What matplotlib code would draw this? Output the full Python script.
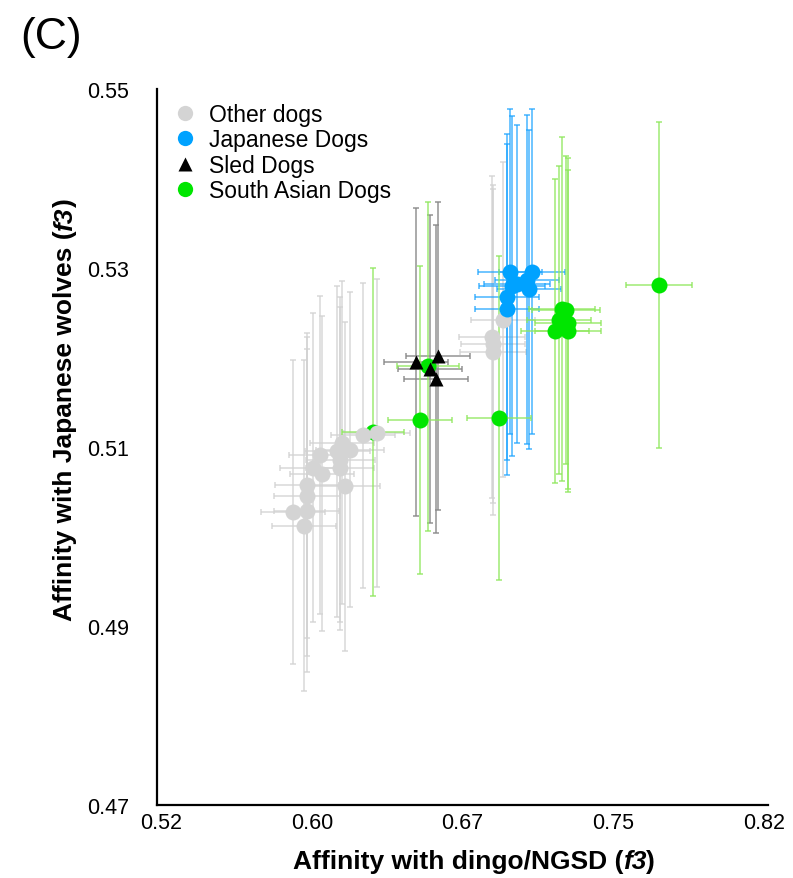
import matplotlib
matplotlib.use("Agg")
import matplotlib.pyplot as plt
from matplotlib.lines import Line2D

plt.rcParams['font.family'] = ['Liberation Sans', 'DejaVu Sans']

# ---- data ----
other_x = [0.6205, 0.6275, 0.6100, 0.6140, 0.6076, 0.5991, 0.6091, 0.5956, 0.6001, 0.6091,
           0.6115, 0.5926, 0.5926, 0.5857, 0.5926, 0.5911, 0.6901, 0.6847, 0.6852, 0.6852]
other_y = [0.5113, 0.5116, 0.5105, 0.5097, 0.5095, 0.5091, 0.5086, 0.5077, 0.5070, 0.5076,
           0.5056, 0.5057, 0.5045, 0.5027, 0.5029, 0.5012, 0.5242, 0.5223, 0.5215, 0.5206]
other_xerr = [0.0160, 0.0165, 0.0158, 0.0170, 0.0162, 0.0155, 0.0172, 0.0165, 0.0160, 0.0168,
              0.0175, 0.0160, 0.0165, 0.0160, 0.0162, 0.0158, 0.0160, 0.0165, 0.0160, 0.0162]
other_yerr = [0.0170, 0.0172, 0.0180, 0.0176, 0.0185, 0.0178, 0.0182, 0.0173, 0.0176, 0.0180,
              0.0184, 0.0170, 0.0178, 0.0170, 0.0180, 0.0185, 0.0176, 0.0180, 0.0178, 0.0182]

jp_x = [0.6936, 0.7046, 0.7021, 0.6946, 0.7031, 0.6921, 0.6921, 0.6971]
jp_y = [0.5296, 0.5296, 0.5287, 0.5280, 0.5276, 0.5268, 0.5254, 0.5282]
jp_xerr = [0.0160, 0.0162, 0.0158, 0.0165, 0.0160, 0.0158, 0.0160, 0.0162]
jp_yerr = [0.0182, 0.0182, 0.0184, 0.0190, 0.0178, 0.0182, 0.0185, 0.0178]

sled_x = [0.6469, 0.6578, 0.6538, 0.6568]
sled_y = [0.5195, 0.5202, 0.5187, 0.5176]
sled_xerr = [0.0158, 0.0160, 0.0158, 0.0160]
sled_yerr = [0.0172, 0.0172, 0.0172, 0.0172]

sa_x = [0.7678, 0.6489, 0.6882, 0.6255, 0.6528, 0.7195, 0.7215, 0.7180, 0.7225, 0.7160, 0.7225]
sa_y = [0.5281, 0.5130, 0.5132, 0.5117, 0.5190, 0.5254, 0.5253, 0.5242, 0.5238, 0.5230, 0.5230]
sa_xerr = [0.0163, 0.0160, 0.0160, 0.0155, 0.0155, 0.0165, 0.0168, 0.0160, 0.0165, 0.0170, 0.0162]
sa_yerr = [0.0182, 0.0172, 0.0181, 0.0183, 0.0184, 0.0192, 0.0172, 0.0172, 0.0185, 0.0170, 0.0180]

xticks = [0.52, 0.595, 0.67, 0.745, 0.82]
xticklabels = ['0.52', '0.60', '0.67', '0.75', '0.82']
yticks = [0.47, 0.49, 0.51, 0.53, 0.55]
yticklabels = ['0.47', '0.49', '0.51', '0.53', '0.55']

labels = ['Other dogs', 'Japanese Dogs', 'Sled Dogs', 'South Asian Dogs']

xlabel_parts = [('Affinity with dingo/NGSD (', 'normal'), ('f3', 'italic'), (')', 'normal')]
ylabel_parts = [('Affinity with Japanese wolves (', 'normal'), ('f3', 'italic'), (')', 'normal')]

# ---- figure ----
fig = plt.figure(figsize=(7.93, 8.79), dpi=100)
ax = fig.add_axes([157/793, 1 - 806/879, (768 - 157)/793, (806 - 90)/879])

eb_kw = dict(fmt='none', capsize=2.5, elinewidth=1.1, capthick=1.1)
ax.errorbar(other_x, other_y, xerr=other_xerr, yerr=other_yerr, ecolor='#d2d2d2', alpha=0.85, zorder=1, **eb_kw)
ax.errorbar(jp_x, jp_y, xerr=jp_xerr, yerr=jp_yerr, ecolor='#1aa3ff', alpha=0.8, zorder=2, **eb_kw)
ax.errorbar(sled_x, sled_y, xerr=sled_xerr, yerr=sled_yerr, ecolor='#888888', alpha=0.9, zorder=2, **eb_kw)
ax.errorbar(sa_x, sa_y, xerr=sa_xerr, yerr=sa_yerr, ecolor='#8ee85c', alpha=0.85, zorder=3, **eb_kw)

ms = 11.5
ax.plot(sa_x, sa_y, 'o', color='#00e600', ms=ms, mec='none', zorder=4)
ax.plot(other_x, other_y, 'o', color='#d4d4d4', ms=ms, mec='none', zorder=5)
ax.plot(sled_x, sled_y, '^', color='black', ms=10, mec='none', zorder=6)
ax.plot(jp_x, jp_y, 'o', color='#00a2ff', ms=ms, mec='none', zorder=6)

ax.set_xlim(0.518, 0.822)
ax.set_ylim(0.47, 0.55)
ax.set_xticks(xticks)
ax.set_xticklabels(xticklabels)
ax.set_yticks(yticks)
ax.set_yticklabels(yticklabels)
ax.tick_params(axis='both', length=0, labelsize=15.5, colors='black')
ax.tick_params(axis='y', pad=20)
ax.tick_params(axis='x', pad=5)
for s in ['top', 'right']:
    ax.spines[s].set_visible(False)
for s in ['left', 'bottom']:
    ax.spines[s].set_linewidth(1.6)

handles = [
    Line2D([], [], marker='o', ls='none', color='#d4d4d4', ms=11, mec='none'),
    Line2D([], [], marker='o', ls='none', color='#00a2ff', ms=11, mec='none'),
    Line2D([], [], marker='^', ls='none', color='black', ms=10, mec='none'),
    Line2D([], [], marker='o', ls='none', color='#00e600', ms=11, mec='none'),
]
ax.legend(handles, labels, loc='upper left', bbox_to_anchor=(0.0, 0.993), frameon=False,
          fontsize=16.5, handletextpad=0.25, labelspacing=0.1, handlelength=1.6, borderaxespad=0)

fig.text(20/793, 1 - 37/879, '(C)', ha='left', va='center', fontsize=32)

# composite labels with italic f3
renderer = fig.canvas.get_renderer()


def composite(parts, cx, cy, rotation=0, size=19):
    texts = []
    widths = []
    for s, st in parts:
        t = fig.text(0, 0, s, fontsize=size, fontweight='bold', fontstyle=st,
                     rotation=rotation, ha='left' if rotation == 0 else 'center',
                     va='center' if rotation == 0 else 'bottom')
        bb = t.get_window_extent(renderer)
        widths.append(bb.width if rotation == 0 else bb.height)
        texts.append(t)
    total = sum(widths)
    W, H = fig.bbox.width, fig.bbox.height
    pos = (cx if rotation == 0 else cy) - total / 2
    for t, w in zip(texts, widths):
        if rotation == 0:
            t.set_position((pos / W, cy / H))
        else:
            t.set_position((cx / W, pos / H))
        pos += w


composite(xlabel_parts, 474, 879 - 862)
composite(ylabel_parts, 65, 879 - 410, rotation=90)

fig.savefig('out.png', dpi=100)
